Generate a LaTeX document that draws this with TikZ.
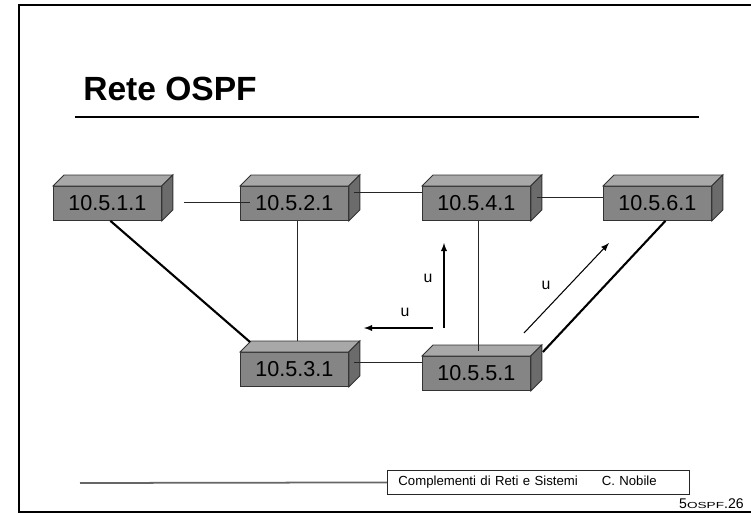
\documentclass[tikz,border=0pt]{standalone}
\usepackage{fontspec}
\setmainfont{Liberation Sans}
\usepackage{graphicx}
\usetikzlibrary{calc,arrows}
\definecolor{frontgray}{gray}{0.52}
\definecolor{topgray}{gray}{0.66}
\definecolor{sidegray}{gray}{0.42}
% scatola del router: nome, x, y, etichetta
\newcommand{\routerbox}[4]{
  \node[router] (#1) at (#2,#3) {#4};
  \filldraw[face] (#1.north west) -- ++(11,-11) -- ($(#1.north east)+(11,-11)$) -- (#1.north east) -- cycle;
  \filldraw[face,fill=sidegray] (#1.north east) -- ++(11,-11) -- ($(#1.south east)+(11,-11)$) -- (#1.south east) -- cycle;
}

\begin{document}
\begin{tikzpicture}[x=0.02cm,y=-0.02cm,
  router/.style={draw=black!80,fill=frontgray,line width=0.5pt,anchor=north west,
    minimum width=2.16cm,minimum height=0.68cm,inner sep=0pt,font=\fontsize{12.3}{14}\selectfont},
  face/.style={draw=black!80,fill=topgray,line width=0.5pt},
  link/.style={draw=black!85,line width=0.6pt},
  heavylink/.style={draw=black,line width=1.2pt},
  flow/.style={-latex,line width=0.6pt},
  flowlabel/.style={inner sep=0pt,font=\fontsize{9}{10}\selectfont}]
\useasboundingbox (0,0) rectangle (751,514);
% cornice della pagina
\draw[line width=1.2pt] (19,5) rectangle (775,512);

% titolo
\node[anchor=base west,inner sep=0pt,font=\fontsize{19.1}{22}\selectfont\bfseries] (title) at (83,100) {Rete OSPF};
\draw[line width=1.7pt] (75,117) -- (699,117);

% router
\routerbox{r1}{53}{186}{10.5.1.1}
\routerbox{r2}{240}{186}{10.5.2.1}
\routerbox{r4}{422}{186}{10.5.4.1}
\routerbox{r6}{603}{186}{10.5.6.1}
\routerbox{r3}{240}{352}{10.5.3.1}
\routerbox{r5}{422}{356}{10.5.5.1}

% collegamenti
\draw[link] ($(r1.east)+(22,-1)$) -- ($(r2.west)+(10,-1)$);
\draw[link] ($(r2.east)+(5,-11)$) -- ($(r4.west)+(0,-11)$);
\draw[link] ($(r4.east)+(6,-6)$) -- ($(r6.west)+(0,-6)$);
\draw[link] ($(r3.east)+(5,-7)$) -- ($(r5.west)+(0,-11)$);
\draw[heavylink] ($(r1.south)+(3,0)$) -- ($(r3.north west)+(10,-10)$);
\draw[link] ($(r2.south)+(3,0)$) -- ($(r3.north)+(3,-11)$);
\draw[link] ($(r4.south)+(2,0)$) -- ($(r5.north)+(2,-5)$);
\draw[heavylink] ($(r6.south)+(8,0)$) -- ($(r5.north east)+(12,-4)$);

% aggiornamenti u
\coordinate (f1) at (433,328);
\coordinate (f1e) at (364,328);
\draw[flow] (f1) -- (f1e);
\node[flowlabel] (u1) at (405,312) {u};
\coordinate (f2) at (444,328);
\coordinate (f2e) at (444,243);
\draw[flow] (f2) -- (f2e);
\node[flowlabel] (u2) at (428,278) {u};
\coordinate (f3) at (524,333);
\coordinate (f3e) at (609,243);
\draw[flow] (f3) -- (f3e);
\node[flowlabel] (u3) at (546,285) {u};

% pie' di pagina
\node[draw=black!85,line width=0.5pt,anchor=north west,text width=5.6cm,inner xsep=0.22cm,
  minimum height=0.48cm,align=left,font=\fontsize{7.5}{9}\selectfont] (foot) at (387,470)
  {Complementi di Reti e Sistemi\hspace*{0.48cm}C. Nobile};
\draw[draw=black!60,line width=1pt] (80,483) -- (foot.west);
\node[anchor=base east,inner sep=0pt,font=\fontsize{8}{9}\selectfont] (pagenum) at (744,508)
  {5\scalebox{1.55}[1]{\fontsize{5}{6}\selectfont OSPF}.26};
\end{tikzpicture}
\end{document}
